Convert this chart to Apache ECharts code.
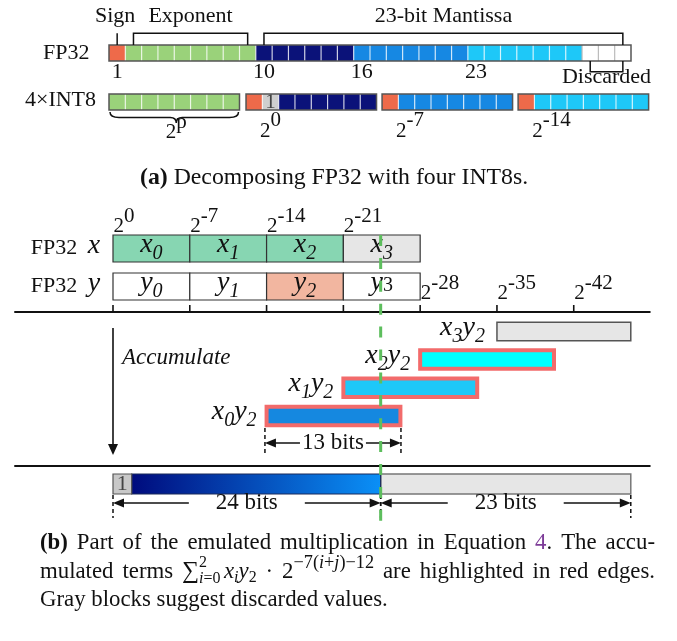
<!DOCTYPE html>
<html><head><meta charset="utf-8">
<script src="https://cdn.jsdelivr.net/npm/echarts@6/dist/echarts.min.js"></script>
<style>html,body{margin:0;padding:0;background:#fff}#c{width:677px;height:641px}</style>
</head><body><div id="c"></div>
<script>
// ---------------- data: part (a) ----------------
const fp32Fields = ['sign', 'exponent', 'mantissaHi', 'mantissaMid', 'mantissaLo', 'discarded'];
const fp32FieldBits = [1, 8, 6, 7, 7, 3];
const fp32BitLabels = [1, 10, 16, 23];
const headerLabels = ['Sign', 'Exponent', '23-bit Mantissa'];
const headerFirstBit = [0, 1, 9];
const headerLastBit = [0, 8, 31];
const discardedLabel = 'Discarded';
const discardedFirstBit = 29;
const discardedLastBit = 31;
const int8GroupFields = [['exponent'], ['sign', 'implicit', 'mantissaHi'], ['sign', 'mantissaMid'], ['sign', 'mantissaLo']];
const int8GroupFieldBits = [[8], [1, 1, 6], [1, 7], [1, 7]];
const int8GroupStart = [0, 8.4, 16.74, 25.08];
const int8ScaleExp = ['p', '0', '-7', '-14'];
// ---------------- data: part (b) ----------------
const scaleTickBits = [0, 7, 14, 21, 28, 35, 42];
const scaleTickExp = ['0', '-7', '-14', '-21', '-28', '-35', '-42'];
const operandRows = ['x', 'y'];
const operandParts = ['0', '1', '2', '3'];
const operandPartBits = 7;
const productX = ['0', '1', '2', '3'];
const productY = ['2', '2', '2', '2'];
const productStartBit = [14, 21, 28, 35];
const productLengthBits = [12.2, 12.2, 12.2, 12.2];
const productAccumulated = [true, true, true, false];
const accumDimLabel = '13 bits';
const accumDimFrom = 13.85;
const accumDimTo = 26.25;
const resultEdges = [0, 24.4, 47.2];
const resultImplicitBits = 1.7;
const resultLabels = ['24 bits', '23 bits'];
const roundingBit = 24.4;

// ---------------- styles & layout ----------------
const INK = '#111';
const SERIF = '"Liberation Serif","Times New Roman",serif';
const PAL = {sign:'#EE6A4A', exponent:'#9AD27A', mantissaHi:'#0B1279', mantissaMid:'#1688E3',
             mantissaLo:'#1EC8F8', discarded:'#FFFFFF', implicit:'#CFCFCF'};
const SEP = 'rgba(255,255,255,0.75)';
const xPartFill = ['#87D6B2', '#87D6B2', '#87D6B2', '#E6E6E6'];
const yPartFill = ['#FFFFFF', '#FFFFFF', '#F2B6A0', '#FFFFFF'];
const ySubDy = [9, 9, 9, 3];
const ySubItalic = [true, true, true, false];
const productFill = ['#1588E0', '#1EC8F8', '#00FFFF', '#E6E6E6'];
const RED = '#F26B6B';
const GREEN = '#5DBE5D';
const A = {rowFP32:[4.5, 6.1], rowINT8:[9.4, 11.0], bracketTop:3.33, headerY:1.6, bitLabelY:7.25,
           discBracketY:7.17, discLabelY:7.7, int8LabelY:13.1, braceMid:11.75, braceCusp:12.3};
const B = {labelUpY:3.6, labelLowY:10.35, rows:[[4.5, 7.2], [8.3, 11.0]], tickTop:11.5, axisY:12.2, sumY:27.6,
           prodY0:22.6, prodStep:2.82, prodH:1.85, accumTop:13.8, accumBot:26.5, accumTextY:16.8,
           resTop:28.4, resBot:30.4, dimY:31.3, dimMark:[30.5, 32.8], accDimY:25.3, accDimMark:[23.8, 26.5],
           greenTop:4.5, greenBot:33.15, lineFrom:-9, lineTo:49};

// ---------------- text helpers ----------------
const ctx2d = document.createElement('canvas').getContext('2d');
function fnt(size, it, bold) { return (it ? 'italic ' : '') + (bold ? 'bold ' : '') + size + 'px ' + SERIF; }
function tw(t, f) { ctx2d.font = f; return ctx2d.measureText(t).width; }
function fragW(f) { if (f.stack) return Math.max.apply(null, f.stack.map(runW)); return tw(f.t, fnt(f.size, f.it, f.bold)); }
function runW(frs) { return frs.reduce((s, f) => s + fragW(f), 0); }
function textEl(t, x, y, font, fill) {
  return {type:'text', x:x, y:y, silent:true,
    style:{text:t, font:font, fill:fill || INK, textAlign:'left', textVerticalAlign:'middle', align:'left', verticalAlign:'middle'}};
}
function runEls(frs, x, y, align) {
  const w = runW(frs);
  let cx = align === 'center' ? x - w / 2 : align === 'right' ? x - w : x;
  const out = [];
  frs.forEach(f => {
    if (f.stack) { f.stack.forEach(s => out.push.apply(out, runEls(s, cx, y, 'left'))); cx += fragW(f); return; }
    out.push(textEl(f.t, cx, y + (f.dy || 0), fnt(f.size, f.it, f.bold), f.fill));
    cx += fragW(f);
  });
  return out;
}
function justifyEls(words, x0, x1, y) {
  const ws = words.map(runW);
  const total = ws.reduce((a, b) => a + b, 0);
  const gap = (x1 - x0 - total) / (words.length - 1);
  let cx = x0; const out = [];
  words.forEach((w, i) => { out.push.apply(out, runEls(w, cx, y, 'left')); cx += ws[i] + gap; });
  return out;
}
function pow2(exp, size, raise) { return [{t:'2', size:size}, {t:exp, size:size, dy:-raise}]; }
function grp(ch) { return {type:'group', children:ch}; }
function ln(p0, p1, style) {
  return {type:'line', shape:{x1:p0[0], y1:p0[1], x2:p1[0], y2:p1[1]}, style:Object.assign({stroke:INK, lineWidth:1.5}, style || {})};
}
function rectAt(api, b0, b1, y0, y1) {
  const p0 = api.coord([b0, y0]), p1 = api.coord([b1, y1]);
  return {x:Math.min(p0[0], p1[0]), y:Math.min(p0[1], p1[1]), width:Math.abs(p1[0] - p0[0]), height:Math.abs(p1[1] - p0[1])};
}
function arrowHead(tip, dir, len, half) {
  return {type:'polygon', shape:{points:[[tip[0], tip[1]], [tip[0] - dir * len, tip[1] - half], [tip[0] - dir * len, tip[1] + half]]}, style:{fill:INK}};
}

// ---------------- derived data ----------------
const allFields = fp32Fields.concat(['implicit']);
const fp32Cells = [];
(function () { let b = 0; fp32FieldBits.forEach((n, fi) => { for (let k = 0; k < n; k++) { fp32Cells.push([b, fi]); b++; } }); })();
const int8Cells = [];
int8GroupFields.forEach((fs, g) => { let b = int8GroupStart[g]; fs.forEach((f, j) => { for (let k = 0; k < int8GroupFieldBits[g][j]; k++) { int8Cells.push([b, allFields.indexOf(f), g]); b += 1; } }); });
const operandCells = [];
operandRows.forEach((r, ri) => operandParts.forEach((p, k) => operandCells.push([k * operandPartBits, ri, k])));

const series = [];
// ===== part (a) =====
series.push({type:'custom', xAxisIndex:0, yAxisIndex:0, data:fp32Cells, renderItem:(p, api) => {
  const b = api.value(0), f = allFields[api.value(1)];
  const r = rectAt(api, b, b + 1, A.rowFP32[0], A.rowFP32[1]);
  const ch = [{type:'rect', shape:r, style:{fill:PAL[f]}}];
  if (b > 0) ch.push(ln([r.x, r.y], [r.x, r.y + r.height], {stroke:f === 'discarded' ? '#BBBBBB' : SEP, lineWidth:1.2}));
  return grp(ch);
}});
series.push({type:'custom', xAxisIndex:0, yAxisIndex:0, data:[[0, fp32FieldBits.reduce((a, b) => a + b, 0)]], renderItem:(p, api) => {
  const r = rectAt(api, api.value(0), api.value(1), A.rowFP32[0], A.rowFP32[1]);
  const ch = [{type:'rect', shape:r, style:{fill:'none', stroke:'#555', lineWidth:1.5}}];
  ch.push.apply(ch, runEls([{t:'FP32', size:22}], 43, api.coord([0, 5.3])[1], 'left'));
  ch.push.apply(ch, runEls([{t:'4\u00D7INT8', size:22}], 25, api.coord([0, 10.05])[1], 'left'));
  return grp(ch);
}});
series.push({type:'custom', xAxisIndex:0, yAxisIndex:0, data:headerLabels.map((l, i) => [headerFirstBit[i], headerLastBit[i], i]), renderItem:(p, api) => {
  const f = api.value(0), l = api.value(1), i = api.value(2);
  const top = A.rowFP32[0];
  const pts = f === l ? [[f + .5, A.bracketTop], [f + .5, top]] : [[f + .5, top], [f + .5, A.bracketTop], [l + .5, A.bracketTop], [l + .5, top]];
  const ch = [{type:'polyline', shape:{points:pts.map(q => api.coord(q))}, style:{stroke:INK, lineWidth:1.5, fill:null}}];
  const c = api.coord([(f + l) / 2 + .5, A.headerY]);
  ch.push.apply(ch, runEls([{t:headerLabels[i], size:22}], c[0] - (f === l ? 2 : 0), c[1], 'center'));
  return grp(ch);
}});
series.push({type:'custom', xAxisIndex:0, yAxisIndex:0, data:[[discardedFirstBit, discardedLastBit]], renderItem:(p, api) => {
  const f = api.value(0), l = api.value(1), bot = A.rowFP32[1];
  const pts = [[f + .5, bot], [f + .5, A.discBracketY], [l + .5, A.discBracketY], [l + .5, bot]];
  const ch = [{type:'polyline', shape:{points:pts.map(q => api.coord(q))}, style:{stroke:INK, lineWidth:1.5, fill:null}}];
  const c = api.coord([(f + l) / 2 + .5, A.discLabelY]);
  ch.push.apply(ch, runEls([{t:discardedLabel, size:22}], c[0], c[1], 'center'));
  return grp(ch);
}});
series.push({type:'custom', xAxisIndex:0, yAxisIndex:0, data:fp32BitLabels.map(n => [n]), renderItem:(p, api) => {
  const n = api.value(0); const c = api.coord([n - 0.5, A.bitLabelY]);
  return grp(runEls([{t:String(n), size:22}], c[0], c[1], 'center'));
}});
series.push({type:'custom', xAxisIndex:0, yAxisIndex:0, data:int8Cells, renderItem:(p, api) => {
  const b = api.value(0), f = allFields[api.value(1)], g = api.value(2);
  const r = rectAt(api, b, b + 1, A.rowINT8[0], A.rowINT8[1]);
  const ch = [{type:'rect', shape:r, style:{fill:PAL[f]}}];
  if (b > int8GroupStart[g] + 0.01) ch.push(ln([r.x, r.y], [r.x, r.y + r.height], {stroke:SEP, lineWidth:1.2}));
  if (f === 'implicit') ch.push.apply(ch, runEls([{t:'1', size:21, fill:'#444'}], r.x + r.width / 2, r.y + r.height / 2, 'center'));
  return grp(ch);
}});
series.push({type:'custom', xAxisIndex:0, yAxisIndex:0, data:int8GroupStart.map((s, g) => [s, g]), renderItem:(p, api) => {
  const s = api.value(0), g = api.value(1);
  const r = rectAt(api, s, s + 8, A.rowINT8[0], A.rowINT8[1]);
  const ch = [{type:'rect', shape:r, style:{fill:'none', stroke:'#555', lineWidth:1.5}}];
  const yl = api.coord([s, A.int8LabelY])[1];
  if (int8GroupFields[g][0] === 'exponent') {
    const x0 = r.x + 1, x1 = r.x + r.width - 1, cx = api.coord([s + 4, 0])[0] + 2;
    const top = api.coord([s, A.rowINT8[1] + 0.2])[1], mid = api.coord([s, A.braceMid])[1], cusp = api.coord([s, A.braceCusp])[1];
    const d = `M${x0},${top} Q${x0},${mid} ${x0 + 9},${mid} L${cx - 6},${mid} Q${cx},${mid} ${cx},${cusp} Q${cx},${mid} ${cx + 6},${mid} L${x1 - 9},${mid} Q${x1},${mid} ${x1},${top}`;
    ch.push({type:'path', shape:{pathData:d}, style:{stroke:INK, lineWidth:1.5, fill:null}});
    ch.push.apply(ch, runEls(pow2(int8ScaleExp[g], 21, 10), cx, yl + 1, 'center'));
  } else {
    ch.push.apply(ch, runEls(pow2(int8ScaleExp[g], 21, 10.5), api.coord([s + 0.86, 0])[0], yl, 'left'));
  }
  return grp(ch);
}});

// ===== part (b) =====
series.push({type:'custom', xAxisIndex:1, yAxisIndex:1, data:[[B.lineFrom, B.lineTo]], renderItem:(p, api) => {
  const a = api.value(0), b = api.value(1);
  return grp([ln(api.coord([a, B.axisY]), api.coord([b, B.axisY]), {lineWidth:2}),
              ln(api.coord([a, B.sumY]), api.coord([b, B.sumY]), {lineWidth:2})]);
}});
series.push({type:'custom', xAxisIndex:1, yAxisIndex:1, data:scaleTickBits.map((b, i) => [b, i]), renderItem:(p, api) => {
  const b = api.value(0), i = api.value(1);
  const ch = [ln(api.coord([b, B.tickTop]), api.coord([b, B.axisY]), {lineWidth:1.6})];
  const above = b < operandParts.length * operandPartBits;
  const c = api.coord([b, above ? B.labelUpY : B.labelLowY]);
  ch.push.apply(ch, runEls(pow2(scaleTickExp[i], 21, 10), c[0] + 0.5, c[1], 'left'));
  return grp(ch);
}});
series.push({type:'custom', xAxisIndex:1, yAxisIndex:1, data:operandCells, renderItem:(p, api) => {
  const b = api.value(0), ri = api.value(1), k = api.value(2);
  const rows = B.rows[ri];
  const r = rectAt(api, b, b + operandPartBits, rows[0], rows[1]);
  const fill = ri === 0 ? xPartFill[k] : yPartFill[k];
  const ch = [{type:'rect', shape:r, style:{fill:fill, stroke:'#333', lineWidth:1.2}}];
  const cy = r.y + r.height / 2 - 4;
  const sub = ri === 0 ? {t:operandParts[k], size:20, it:true, dy:9} : {t:operandParts[k], size:20, it:ySubItalic[k], dy:ySubDy[k]};
  ch.push.apply(ch, runEls([{t:operandRows[ri], size:28, it:true}, sub], r.x + r.width / 2, cy, 'center'));
  if (k === 0) {
    ch.push.apply(ch, runEls([{t:'FP32', size:22}], api.coord([-7.5, 0])[0], r.y + r.height / 2 - 0.5, 'left'));
    ch.push.apply(ch, runEls([{t:operandRows[ri], size:28, it:true}], api.coord([-2.3, 0])[0], r.y + r.height / 2 - 3, 'left'));
  }
  return grp(ch);
}});
series.push({type:'custom', xAxisIndex:1, yAxisIndex:1, data:[[0]], renderItem:(p, api) => {
  const b = api.value(0);
  const t = api.coord([b, B.accumTop]), e = api.coord([b, B.accumBot]);
  const ch = [ln(t, [e[0], e[1] - 8], {lineWidth:1.6}),
              {type:'polygon', shape:{points:[[e[0], e[1]], [e[0] - 5, e[1] - 11], [e[0] + 5, e[1] - 11]]}, style:{fill:INK}}];
  ch.push.apply(ch, runEls([{t:'Accumulate', size:23, it:true}], t[0] + 9, api.coord([b, B.accumTextY])[1], 'left'));
  return grp(ch);
}});
series.push({type:'custom', xAxisIndex:1, yAxisIndex:1, data:productStartBit.map((s, i) => [s, productLengthBits[i], i]), renderItem:(p, api) => {
  const s = api.value(0), len = api.value(1), i = api.value(2);
  const yc = B.prodY0 - i * B.prodStep;
  const r = rectAt(api, s, s + len, yc - B.prodH / 2, yc + B.prodH / 2);
  const acc = productAccumulated[i];
  const ch = [{type:'rect', shape:r, style:{fill:productFill[i], stroke:acc ? RED : '#555', lineWidth:acc ? 4 : 1.5}}];
  ch.push.apply(ch, runEls([{t:'x', size:28, it:true}, {t:productX[i], size:20, it:true, dy:9},
                            {t:'y', size:28, it:true}, {t:productY[i], size:20, it:true, dy:9}],
                           r.x - (acc ? 10 : 12), r.y + r.height / 2 - 4, 'right'));
  return grp(ch);
}});
series.push({type:'custom', xAxisIndex:1, yAxisIndex:1, data:[[resultEdges[0], resultEdges[1], resultEdges[2]]], renderItem:(p, api) => {
  const a = api.value(0), m = api.value(1), z = api.value(2);
  const ri = rectAt(api, a, a + resultImplicitBits, B.resTop, B.resBot);
  const rg = rectAt(api, a + resultImplicitBits, m, B.resTop, B.resBot);
  const rd = rectAt(api, m, z, B.resTop, B.resBot);
  const grad = new echarts.graphic.LinearGradient(0, 0, 1, 0, [{offset:0, color:'#000B7D'}, {offset:1, color:'#0A90F7'}]);
  const ch = [
    {type:'rect', shape:rd, style:{fill:'#E6E6E6', stroke:'#777', lineWidth:1.5}},
    {type:'rect', shape:rg, style:{fill:grad, stroke:'#1a2a5a', lineWidth:1.2}},
    {type:'rect', shape:ri, style:{fill:'#C8C8C8', stroke:'#555', lineWidth:1.2}}
  ];
  ch.push.apply(ch, runEls([{t:'1', size:22, fill:'#444'}], ri.x + ri.width / 2, ri.y + ri.height / 2, 'center'));
  return grp(ch);
}});
function dimEls(api, from, to, label, y, mark, gap) {
  const p0 = api.coord([from, y]), p1 = api.coord([to, y]);
  const ch = [];
  [from, to].forEach(b => ch.push(ln(api.coord([b, mark[0]]), api.coord([b, mark[1]]), {lineWidth:1.5, lineDash:[4, 3]})));
  const f = [{t:label, size:23}];
  const w = runW(f), cx = (p0[0] + p1[0]) / 2;
  ch.push(ln([p0[0] + 9, p0[1]], [cx - w / 2 - gap, p0[1]], {lineWidth:1.5}));
  ch.push(ln([cx + w / 2 + gap, p1[1]], [p1[0] - 9, p1[1]], {lineWidth:1.5}));
  ch.push(arrowHead(p0, -1, 11, 4.5), arrowHead(p1, 1, 11, 4.5));
  ch.push.apply(ch, runEls(f, cx, p0[1], 'center'));
  return ch;
}
series.push({type:'custom', xAxisIndex:1, yAxisIndex:1, data:[[accumDimFrom, accumDimTo]], renderItem:(p, api) =>
  grp(dimEls(api, api.value(0), api.value(1), accumDimLabel, B.accDimY, B.accDimMark, 2))});
series.push({type:'custom', xAxisIndex:1, yAxisIndex:1, data:resultLabels.map((l, i) => [resultEdges[i], resultEdges[i + 1], i]), renderItem:(p, api) =>
  grp(dimEls(api, api.value(0), api.value(1), resultLabels[api.value(2)], B.dimY, B.dimMark, 27))});
series.push({type:'custom', xAxisIndex:1, yAxisIndex:1, z:10, data:[[roundingBit]], renderItem:(p, api) => {
  const b = api.value(0);
  return grp([ln(api.coord([b, B.greenTop]), api.coord([b, B.greenBot]), {stroke:GREEN, lineWidth:3, lineDash:[11, 11.9]})]);
}});

// ---------------- captions ----------------
function words(str, size, extra) { return str.split(' ').filter(Boolean).map(w => [Object.assign({t:w, size:size}, extra || {})]); }
const line3 = 'Gray blocks suggest discarded values.';
const capS = 20 * 348 / tw(line3, fnt(20));
const capA = [{t:'(a)', size:capS, bold:true}, {t:' Decomposing FP32 with four INT8s.', size:capS}];
const capAS = capS * 388 / runW(capA);
capA.forEach(f => f.size = capAS);
const sS = capS * 0.7;
const eS = capS * 0.8;
const eDy = -0.4 * capS;
const l1 = [[{t:'(b)', size:capS, bold:true}]].concat(words('Part of the emulated multiplication in Equation', capS),
  [[{t:'4', size:capS, fill:'#7D3C98'}, {t:'.', size:capS}]], words('The accu-', capS));
const l2 = words('mulated terms', capS).concat([
  [{t:'\u2211', size:capS * 1.05}, {stack:[[{t:'2', size:sS, dy:-0.4 * capS}], [{t:'i', size:sS, it:true, dy:0.3 * capS}, {t:'=0', size:sS, dy:0.3 * capS}]]},
   {t:' ', size:capS * 0.6},
   {t:'x', size:capS, it:true}, {t:'i', size:sS, it:true, dy:0.25 * capS}, {t:'y', size:capS, it:true}, {t:'2', size:sS, dy:0.25 * capS}],
  [{t:'\u00B7', size:capS}],
  [{t:'2', size:capS}, {t:'\u22127(', size:eS, dy:eDy}, {t:'i', size:eS, it:true, dy:eDy}, {t:'+', size:eS, dy:eDy},
   {t:'j', size:eS, it:true, dy:eDy}, {t:')\u221212', size:eS, dy:eDy}]
]).concat(words('are highlighted in red edges.', capS));
let capEls = [];
capEls = capEls.concat(runEls(capA, 140, 178, 'left'));
capEls = capEls.concat(justifyEls(l1, 40, 655, 543));
capEls = capEls.concat(justifyEls(l2, 40, 655, 572));
capEls = capEls.concat(runEls([{t:line3, size:capS}], 40, 600, 'left'));

const chart = echarts.init(document.getElementById('c'), null, {renderer:'canvas'});
chart.setOption({
  animation:false,
  backgroundColor:'#fff',
  grid:[{left:109, top:0, width:34 * 16.3125, height:140}, {left:113 - 9 * 10.97, top:190, width:58 * 10.97, height:340}],
  xAxis:[{type:'value', gridIndex:0, min:0, max:34, show:false}, {type:'value', gridIndex:1, min:-9, max:49, show:false}],
  yAxis:[{type:'value', gridIndex:0, min:0, max:14, inverse:true, show:false}, {type:'value', gridIndex:1, min:0, max:34, inverse:true, show:false}],
  series:series,
  graphic:{elements:capEls}
});
</script></body></html>
